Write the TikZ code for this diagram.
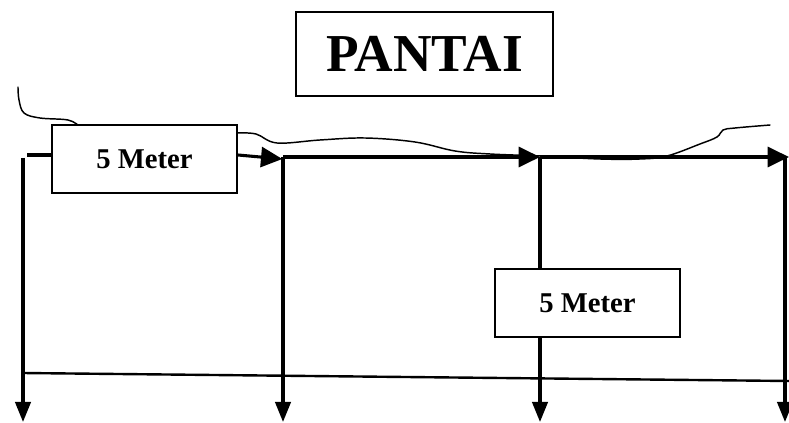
\documentclass[tikz,border=0pt]{standalone}
\usepackage{fontspec}
\setmainfont{Liberation Serif}
\usetikzlibrary{arrows.meta}
\tikzset{
  titlebox/.style={draw, line width=1.6pt, minimum width=192.75pt, minimum height=63pt,
    inner sep=0pt, font=\fontsize{40}{44}\selectfont\bfseries},
  meterbox/.style={draw, fill=white, line width=1.5pt, minimum width=138.75pt, minimum height=51pt,
    inner sep=0pt, font=\fontsize{21.5}{24}\selectfont\bfseries},
  mainline/.style={line width=2.3pt},
  toparrow/.style={mainline, -{Triangle[length=16pt,width=15pt]}},
  downarrow/.style={mainline, -{Triangle[length=15pt,width=11.5pt]}},
  coast/.style={line width=1.1pt, line cap=round, line join=round}
}
\begin{document}
\begin{tikzpicture}[x=0.75pt, y=-0.75pt]
  \useasboundingbox (0,0) rectangle (789,423);

  % shoreline sketch
  \draw[coast] plot[smooth, tension=0.6] coordinates {(18,87) (19,100) (24,113) (40,118) (68,120) (79,126)};
  \draw[coast] plot[smooth, tension=0.6] coordinates {(237,133) (256,134) (277,143) (320,140) (365,138) (415,142)
    (455,151) (490,154) (540,156) (600,159) (640,159) (667,156) (700,144) (717,137) (723,130) (735,128) (770,125)};

  % title
  \node[titlebox] (title) at (424.5,54) {PANTAI};

  % junction points
  \coordinate (s0) at (27,155);
  \coordinate (j1) at (283,157);
  \coordinate (j2) at (540,157);
  \coordinate (j3) at (789,157);
  \coordinate (v0) at (23,158);
  \coordinate (v3) at (785,157);
  \coordinate (b0) at (23,422);
  \coordinate (b1) at (283,422);
  \coordinate (b2) at (540,422);
  \coordinate (b3) at (785,422);
  \coordinate (c0) at (22,373);
  \coordinate (c1) at (789,381);

  % measuring boxes
  \node[meterbox] (m1) at (144.5,159) {5 Meter};
  \node[meterbox] (m2) at (587.5,303.5) {5 Meter};

  % top run along the shore
  \draw[mainline] (s0) -- (m1.west |- s0);
  \draw[toparrow] (m1.east |- s0) -- ([xshift=-0.5pt,yshift=-1.5pt]j1);
  \draw[toparrow] (j1) -- (j2);
  \draw[toparrow] (j2) -- (j3);

  % vertical runs
  \draw[downarrow] (v0) -- (b0);
  \draw[downarrow] (j1) -- (b1);
  \draw[mainline] (j2) -- (j2 |- m2.north);
  \draw[downarrow] (j2 |- m2.south) -- (b2);
  \draw[downarrow] (v3) -- (b3);

  % cross line
  \draw[line width=1.8pt] (c0) -- (c1);
\end{tikzpicture}
\end{document}
